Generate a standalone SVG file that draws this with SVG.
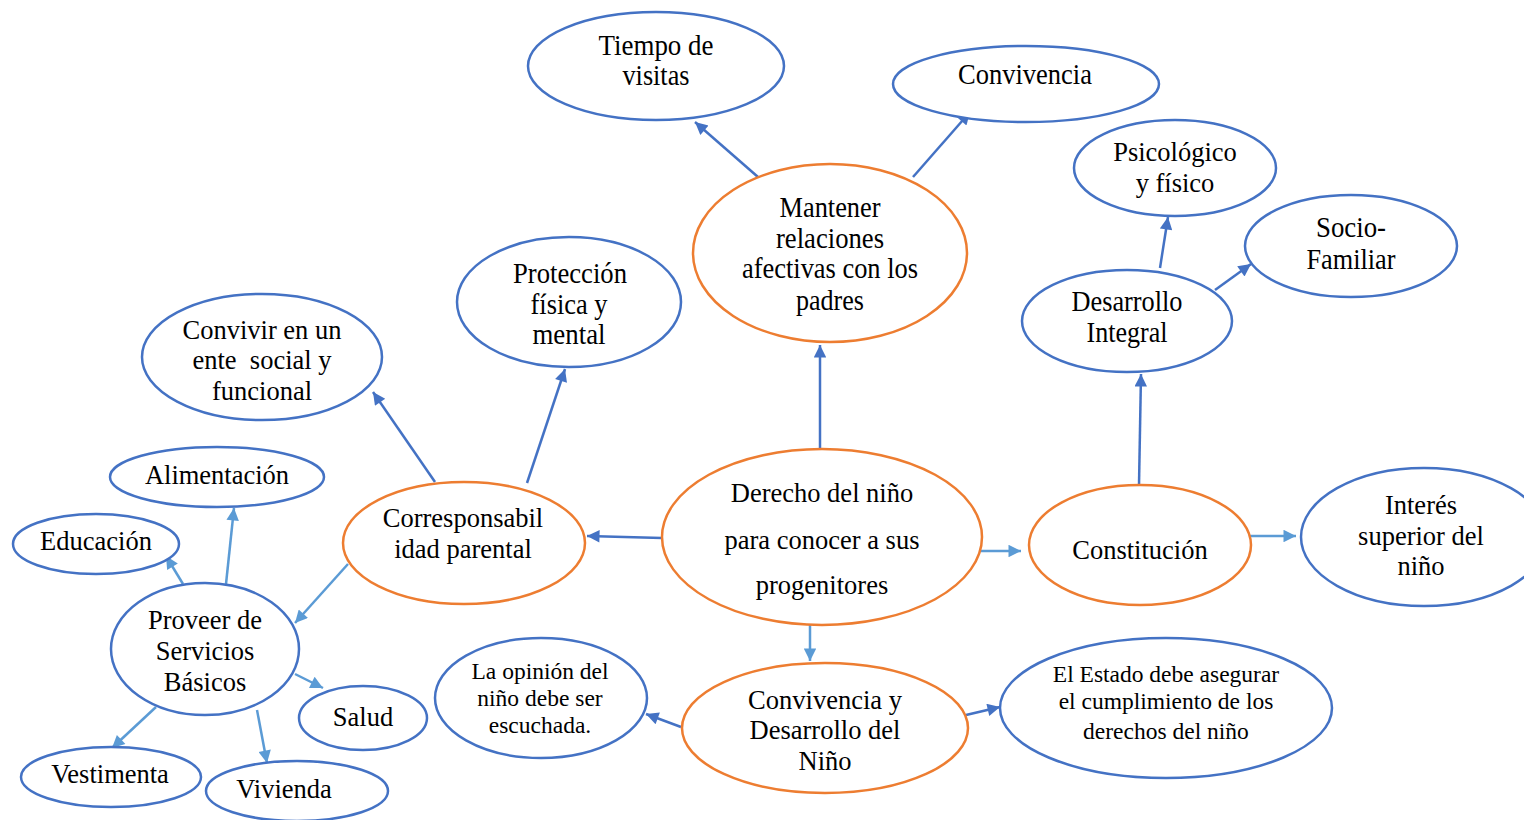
<svg xmlns="http://www.w3.org/2000/svg" width="1524" height="820" viewBox="0 0 1524 820">
<style>
.b{fill:#fff;stroke:#4472C4;stroke-width:2.5}
.o{fill:#fff;stroke:#ED7D31;stroke-width:2.5}
text{font-family:"Liberation Serif","Times New Roman",serif;font-size:26.5px;fill:#000;text-anchor:middle}
.s{font-size:23.5px}
.c{font-size:29px}
.d{stroke:#4472C4;stroke-width:2.5;fill:none;marker-end:url(#ad)}
.l{stroke:#5B9BD5;stroke-width:2.5;fill:none;marker-end:url(#al)}
</style>
<defs>
<marker id="ad" viewBox="0 0 10 10" refX="10" refY="5" markerWidth="6" markerHeight="5" orient="auto" markerUnits="strokeWidth"><path d="M0,0L10,5L0,10z" fill="#4472C4"/></marker>
<marker id="al" viewBox="0 0 10 10" refX="10" refY="5" markerWidth="6" markerHeight="5" orient="auto" markerUnits="strokeWidth"><path d="M0,0L10,5L0,10z" fill="#5B9BD5"/></marker>
</defs>
<rect width="1524" height="820" fill="#fff"/>
<g id="connectors">
<line class="d" x1="758" y1="177" x2="695" y2="122"/>
<line class="d" x1="913" y1="177" x2="970" y2="112"/>
<line class="d" x1="820" y1="449" x2="820" y2="345"/>
<line class="d" x1="662" y1="538" x2="587" y2="536"/>
<line class="l" x1="972" y1="551" x2="1021" y2="551"/>
<line class="l" x1="810" y1="624" x2="810" y2="661"/>
<line class="d" x1="1139" y1="485" x2="1141" y2="374"/>
<line class="l" x1="1245" y1="536" x2="1296" y2="536"/>
<line class="d" x1="1160" y1="268" x2="1168" y2="217"/>
<line class="d" x1="1215" y1="290" x2="1251" y2="264"/>
<line class="d" x1="527" y1="483" x2="565" y2="369"/>
<line class="d" x1="435" y1="482" x2="373" y2="392"/>
<line class="l" x1="348" y1="564" x2="295" y2="623"/>
<line class="l" x1="226" y1="584" x2="234" y2="508"/>
<line class="l" x1="183" y1="584" x2="166" y2="556"/>
<line class="l" x1="295" y1="674" x2="323" y2="688"/>
<line class="l" x1="156" y1="707" x2="112" y2="748"/>
<line class="l" x1="257" y1="710" x2="267" y2="763"/>
<line class="d" x1="681" y1="727" x2="646" y2="714"/>
<line class="d" x1="966" y1="715" x2="1000" y2="707"/>
</g>
<g id="tiempo"><ellipse class="b" cx="656" cy="66" rx="128" ry="54"/><text class="c" x="656" y="55" textLength="115" lengthAdjust="spacingAndGlyphs">Tiempo de</text><text class="c" x="656" y="85" textLength="67" lengthAdjust="spacingAndGlyphs">visitas</text></g>
<g id="convivencia"><ellipse class="b" cx="1026" cy="84" rx="133" ry="38"/><text class="c" x="1025" y="84" textLength="134" lengthAdjust="spacingAndGlyphs">Convivencia</text></g>
<g id="mantener"><ellipse class="o" cx="830" cy="253" rx="137" ry="89"/><text class="c" x="830" y="217" textLength="101" lengthAdjust="spacingAndGlyphs">Mantener</text><text class="c" x="830" y="248" textLength="108" lengthAdjust="spacingAndGlyphs">relaciones</text><text class="c" x="830" y="278" textLength="176" lengthAdjust="spacingAndGlyphs">afectivas con los</text><text class="c" x="830" y="310" textLength="68" lengthAdjust="spacingAndGlyphs">padres</text></g>
<g id="psicologico"><ellipse class="b" cx="1175" cy="168" rx="101" ry="48"/><text x="1175" y="161">Psicológico</text><text x="1175" y="192">y físico</text></g>
<g id="socio"><ellipse class="b" cx="1351" cy="246" rx="106" ry="51"/><text class="c" x="1351" y="237" textLength="70" lengthAdjust="spacingAndGlyphs">Socio-</text><text class="c" x="1351" y="269" textLength="89" lengthAdjust="spacingAndGlyphs">Familiar</text></g>
<g id="desarrollo-integral"><ellipse class="b" cx="1127" cy="321" rx="105" ry="51"/><text class="c" x="1127" y="311" textLength="111" lengthAdjust="spacingAndGlyphs">Desarrollo</text><text class="c" x="1127" y="342" textLength="81" lengthAdjust="spacingAndGlyphs">Integral</text></g>
<g id="proteccion"><ellipse class="b" cx="569" cy="302" rx="112" ry="65"/><text class="c" x="570" y="283" textLength="114" lengthAdjust="spacingAndGlyphs">Protección</text><text class="c" x="569" y="314" textLength="77" lengthAdjust="spacingAndGlyphs">física y</text><text class="c" x="569" y="344" textLength="73" lengthAdjust="spacingAndGlyphs">mental</text></g>
<g id="convivir"><ellipse class="b" cx="262" cy="357" rx="120" ry="63"/><text x="262" y="339">Convivir en un</text><text x="262" y="369" xml:space="preserve">ente  social y</text><text x="262" y="400">funcional</text></g>
<g id="alimentacion"><ellipse class="b" cx="217" cy="477" rx="107" ry="30"/><text x="217" y="484">Alimentación</text></g>
<g id="educacion"><ellipse class="b" cx="96" cy="544" rx="83" ry="30"/><text x="96" y="550">Educación</text></g>
<g id="proveer"><ellipse class="b" cx="205" cy="649" rx="94" ry="66"/><text x="205" y="629">Proveer de</text><text x="205" y="660">Servicios</text><text x="205" y="691">Básicos</text></g>
<g id="corresponsabilidad"><ellipse class="o" cx="464" cy="543" rx="121" ry="61"/><text x="463" y="527">Corresponsabil</text><text x="463" y="558">idad parental</text></g>
<g id="derecho"><ellipse class="o" cx="822" cy="537" rx="160" ry="88"/><text x="822" y="502">Derecho del niño</text><text x="822" y="549">para conocer a sus</text><text x="822" y="594">progenitores</text></g>
<g id="constitucion"><ellipse class="o" cx="1140" cy="545" rx="111" ry="60"/><text x="1140" y="559">Constitución</text></g>
<g id="interes"><ellipse class="b" cx="1424" cy="537" rx="123" ry="69"/><text x="1421" y="514">Interés</text><text x="1421" y="545">superior del</text><text x="1421" y="575">niño</text></g>
<g id="salud"><ellipse class="b" cx="363" cy="718" rx="64" ry="32"/><text x="363" y="726">Salud</text></g>
<g id="vestimenta"><ellipse class="b" cx="111" cy="777" rx="90" ry="30"/><text x="110" y="783">Vestimenta</text></g>
<g id="vivienda"><ellipse class="b" cx="297" cy="791" rx="91" ry="30"/><text x="284" y="798">Vivienda</text></g>
<g id="opinion"><ellipse class="b" cx="541" cy="698" rx="106" ry="60"/><text class="s" x="540" y="679">La opinión del</text><text class="s" x="540" y="706">niño debe ser</text><text class="s" x="540" y="733">escuchada.</text></g>
<g id="convivencia-desarrollo"><ellipse class="o" cx="825" cy="728" rx="143" ry="65"/><text x="825" y="709">Convivencia y</text><text x="825" y="739">Desarrollo del</text><text x="825" y="770">Niño</text></g>
<g id="estado"><ellipse class="b" cx="1166" cy="708" rx="166" ry="70"/><text class="s" x="1166" y="682">El Estado debe asegurar</text><text class="s" x="1166" y="709">el cumplimiento de los</text><text class="s" x="1166" y="739">derechos del niño</text></g>
</svg>
